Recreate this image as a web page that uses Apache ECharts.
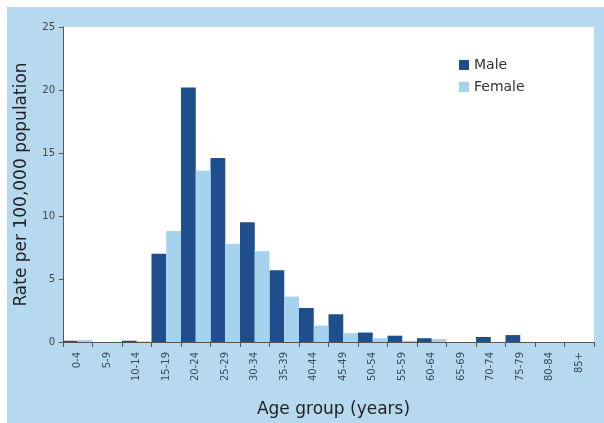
<!DOCTYPE html>
<html><head><meta charset="utf-8">
<script src="https://cdn.jsdelivr.net/npm/echarts@6/dist/echarts.min.js"></script>
<style>html,body{margin:0;padding:0;background:#fff}#c{width:604px;height:423px}</style>
</head><body><div id="c"></div>
<script>
const categories = ['0-4','5-9','10-14','15-19','20-24','25-29','30-34','35-39','40-44','45-49','50-54','55-59','60-64','65-69','70-74','75-79','80-84','85+'];
const maleValues = [0.1,0,0.1,7.0,20.2,14.6,9.5,5.7,2.7,2.2,0.75,0.5,0.3,0,0.4,0.55,0,0];
const femaleValues = [0.15,0,0.05,8.8,13.6,7.8,7.2,3.6,1.3,0.7,0.3,0.1,0.25,0,0,0,0,0];
const yTicks = [0,5,10,15,20,25];

const chart = echarts.init(document.getElementById('c'), null, {renderer:'canvas'});
chart.setOption({
  animation:false,
  backgroundColor:'#ffffff',
  graphic:[{type:'rect', z:-10, shape:{x:7,y:7,width:597,height:416}, style:{fill:'#b7d9f0'}}],
  grid:{left:63,right:10,top:27,bottom:78,show:true,backgroundColor:'#ffffff',borderWidth:0},
  legend:{orient:'vertical',left:454,top:53,itemWidth:10,itemHeight:10,itemGap:8,itemTextGap:4,icon:'rect',
    textStyle:{fontFamily:'DejaVu Sans',fontSize:14,color:'#333'},
    data:['Male','Female']},
  xAxis:{type:'category',data:categories,
    axisLine:{lineStyle:{color:'#555',width:1}},
    axisTick:{show:true,alignWithLabel:false,length:5,lineStyle:{color:'#555'}},
    axisLabel:{rotate:90,interval:0,fontSize:10,color:'#3a4a5a',fontFamily:'DejaVu Sans',margin:10},
    name:'Age group (years)',nameLocation:'middle',nameGap:59,
    nameTextStyle:{fontFamily:'DejaVu Sans',fontSize:17,color:'#222',padding:[0,0,0,10]}},
  yAxis:{type:'value',min:0,max:25,interval:5,
    axisLine:{show:true,lineStyle:{color:'#555',width:1}},
    axisTick:{show:true,length:4,lineStyle:{color:'#555'}},
    splitLine:{show:false},
    axisLabel:{fontSize:10,color:'#444',fontFamily:'DejaVu Sans',margin:8,
      formatter:v=>yTicks.includes(v)?String(v):''},
    name:'Rate per 100,000 population',nameLocation:'middle',nameGap:33,
    nameTextStyle:{fontFamily:'DejaVu Sans',fontSize:17,color:'#222'}},
  series:[
    {name:'Male',type:'bar',data:maleValues,barGap:'0%',barCategoryGap:'0%',
      itemStyle:{color:'#1f4e8c'}},
    {name:'Female',type:'bar',data:femaleValues,barGap:'0%',barCategoryGap:'0%',
      itemStyle:{color:'#a5d3ee'}}
  ]
});
</script></body></html>
